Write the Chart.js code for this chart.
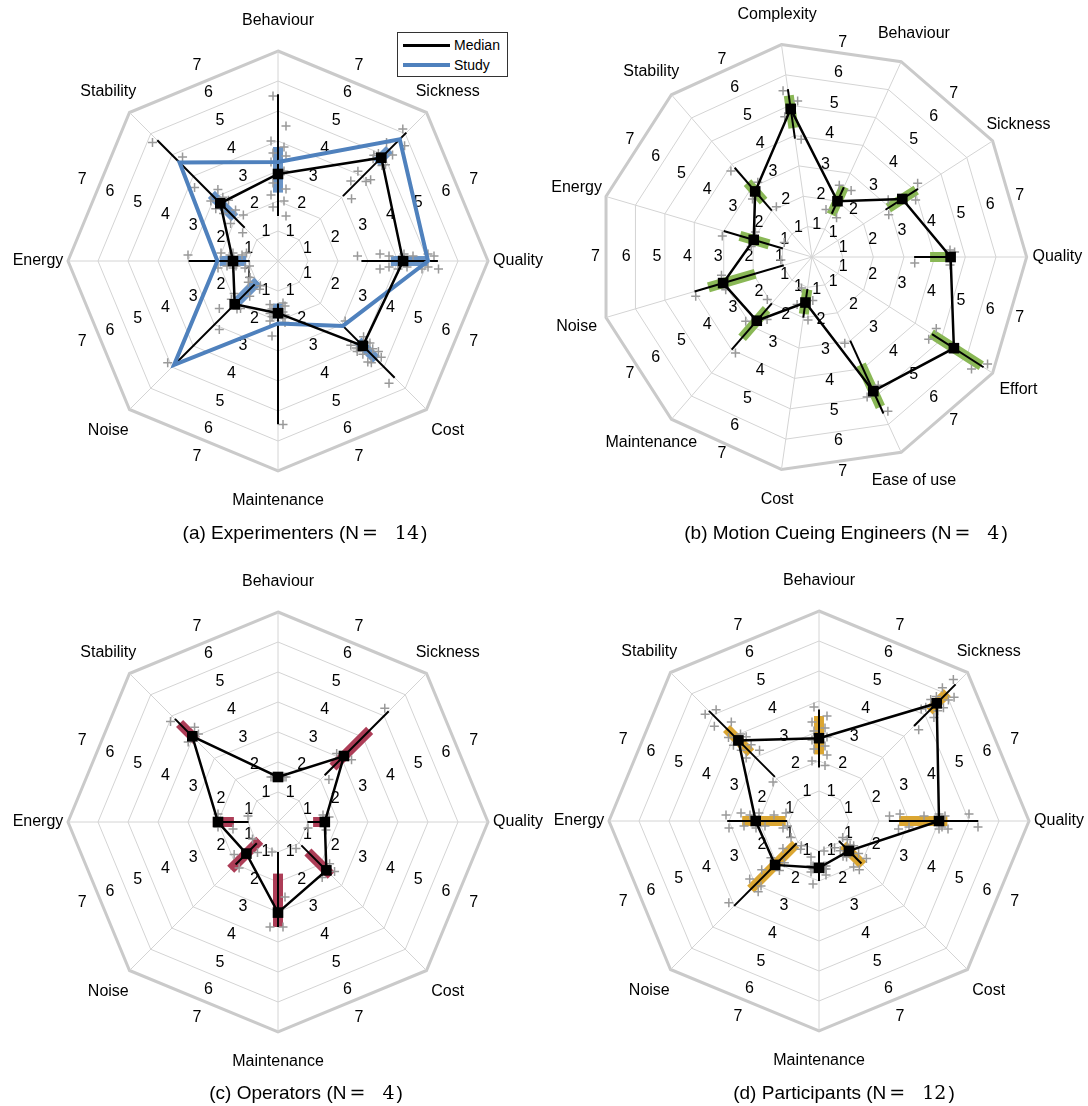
<!DOCTYPE html>
<html>
<head>
<meta charset="utf-8">
<script src="https://cdn.jsdelivr.net/npm/chart.js@4.4.1/dist/chart.umd.min.js"></script>
<style>
  body { margin: 0; background: #fff; width: 1088px; height: 1106px; position: relative; overflow: hidden;
         font-family: "Liberation Sans", Arial, sans-serif; color: #000; }
  canvas { position: absolute; }
  .cap { position: absolute; width: 440px; text-align: center; font-size: 19px; line-height: 24px; }
  .cap .m { font-family: "DejaVu Serif", serif; font-size: 19px; }
  .cap .eq { margin-left: 3px; }
  .cap .num { margin-left: 17px; margin-right: 2px; }
  #legend { position: absolute; left: 397px; top: 32px; width: 109px; height: 43px; border: 1px solid #333; background: #fff; }
  #legend .ln { position: absolute; left: 5px; width: 47px; }
  #legend span { position: absolute; left: 56px; font-size: 14px; line-height: 16px; }
</style>
</head>
<body>
<canvas id="chartA" width="540" height="540" style="left:8px;top:-9px"></canvas>
<canvas id="chartB" width="552" height="552" style="left:536px;top:-19px"></canvas>
<canvas id="chartC" width="540" height="540" style="left:8px;top:552px"></canvas>
<canvas id="chartD" width="540" height="540" style="left:549px;top:551px"></canvas>

<div id="legend">
  <div class="ln" style="top:11px;height:3px;background:#000"></div>
  <span style="top:4px">Median</span>
  <div class="ln" style="top:30px;height:4px;background:#4f81bd"></div>
  <span style="top:24px">Study</span>
</div>

<div class="cap" style="left:85px;top:520px">(a) Experimenters (N<span class="m eq">=</span><span class="m num">14</span>)</div>
<div class="cap" style="left:626px;top:520px">(b) Motion Cueing Engineers (N<span class="m eq">=</span><span class="m num">4</span>)</div>
<div class="cap" style="left:86px;top:1080px">(c) Operators (N<span class="m eq">=</span><span class="m num">4</span>)</div>
<div class="cap" style="left:624px;top:1080px">(d) Participants (N<span class="m eq">=</span><span class="m num">12</span>)</div>

<script>
const tickValues = [1, 2, 3, 4, 5, 6, 7];

// (a) Experimenters
const axesA = ['Behaviour', 'Sickness', 'Quality', 'Cost', 'Maintenance', 'Noise', 'Energy', 'Stability'];
const medianA = [2.9, 4.87, 4.17, 4.0, 1.74, 2.04, 1.5, 2.72];
const studyA = [3.3, 5.74, 5.0, 3.06, 2.08, 4.9, 2.02, 4.64];
const q1A = [2.28, 4.63, 3.76, 3.77, 1.42, 0.95, 1.06, 2.04];
const q3A = [3.8, 5.26, 5.0, 4.64, 1.91, 1.92, 1.94, 3.14];
const lowA = [1.5, 3.06, 2.78, 3.06, 1.42, 1.1, 0.94, 1.57];
const highA = [5.56, 6.05, 5.33, 5.5, 5.44, 4.9, 2.98, 5.69];
const pointsA = [
  [5.5, 4.5, 4.0, 3.8, 3.6, 3.5, 3.3, 3.0, 2.6, 2.4, 2.2, 2.0, 1.8, 1.5],
  [6.05, 5.7, 5.35, 5.2, 4.9, 4.8, 4.75, 4.7, 4.65, 4.1, 4.0, 3.95, 3.6, 3.2],
  [2.65, 3.4, 3.4, 3.7, 3.7, 4.0, 4.2, 4.3, 4.5, 4.8, 5.0, 5.0, 5.2, 5.35],
  [3.0, 3.7, 3.8, 3.9, 4.0, 4.0, 4.1, 4.2, 4.3, 4.5, 4.5, 4.6, 4.7, 5.5],
  [1.4, 1.45, 1.5, 1.6, 1.7, 1.75, 1.8, 1.85, 1.9, 2.0, 2.05, 2.5, 5.45],
  [1.0, 1.05, 1.1, 1.2, 1.5, 1.8, 2.0, 2.0, 2.1, 2.5, 3.0, 5.0],
  [0.95, 1.05, 1.1, 1.2, 1.4, 1.5, 1.5, 1.6, 1.7, 1.9, 2.0, 3.0],
  [1.5, 1.9, 2.0, 2.2, 2.4, 2.6, 2.7, 2.8, 3.0, 3.1, 3.7, 4.7, 5.75]
];

// (b) Motion Cueing Engineers
const axesB = ['Complexity', 'Behaviour', 'Sickness', 'Quality', 'Effort', 'Ease of use', 'Cost', 'Maintenance', 'Noise', 'Energy', 'Stability'];
const medianB = [4.88, 2.0, 3.5, 4.52, 5.5, 4.81, 1.5, 2.75, 3.02, 1.98, 2.83];
const q1B = [4.25, 1.52, 2.96, 3.85, 4.62, 3.86, 1.07, 2.26, 1.93, 1.46, 2.41];
const q3B = [5.32, 2.52, 4.04, 4.5, 6.56, 5.37, 1.88, 3.48, 3.52, 2.45, 3.21];
const lowB = [3.9, 1.55, 2.85, 3.33, 4.65, 3.0, 1.05, 2.0, 0.96, 0.99, 2.0];
const highB = [5.53, 2.5, 4.11, 4.52, 6.65, 5.61, 2.0, 4.0, 3.99, 3.0, 3.85];
const pointsB = [
  [5.5, 5.1, 4.65, 3.85],
  [2.5, 2.5, 1.6, 1.5],
  [4.2, 3.85, 3.1, 2.85],
  [4.65, 4.5, 4.5, 3.35],
  [6.7, 6.35, 4.67, 4.65],
  [5.6, 4.9, 4.7, 3.0],
  [2.05, 1.6, 1.4, 1.05],
  [4.0, 3.0, 2.5, 2.0],
  [4.0, 3.0, 3.0, 1.0],
  [3.0, 2.0, 2.0, 1.0],
  [3.85, 3.0, 2.7, 2.0]
];

// (c) Operators
const axesC = axesA;
const medianC = [1.5, 3.11, 1.56, 2.28, 3.02, 1.49, 2.0, 4.04];
const q1C = [1.5, 2.59, 1.17, 1.41, 1.72, 0.86, 1.47, 3.85];
const q3C = [1.5, 4.32, 1.67, 2.51, 3.5, 2.23, 2.17, 4.64];
const lowC = [1.5, 2.2, 0.98, 1.1, 1.0, 1.0, 0.98, 3.95];
const highC = [1.5, 5.22, 1.67, 2.5, 3.5, 2.0, 2.0, 4.86];
const pointsC = [
  [1.5, 1.5, 1.5, 1.5],
  [5.2, 3.2, 3.0, 2.2],
  [1.7, 1.6, 1.5, 1.0],
  [2.5, 2.35, 2.2, 1.05],
  [3.5, 3.5, 2.5, 1.0],
  [2.0, 1.8, 1.2, 1.0],
  [2.0, 2.0, 1.5, 1.0],
  [4.9, 4.2, 4.0, 3.95]
];

// (d) Participants
const axesD = axesA;
const medianD = [2.76, 5.55, 4.0, 1.41, 1.56, 2.07, 2.11, 3.8];
const q1D = [2.22, 5.19, 2.67, 1.13, 1.5, 1.1, 1.11, 3.22];
const q3D = [3.5, 6.05, 4.28, 2.07, 1.6, 3.22, 2.56, 4.36];
const lowD = [1.78, 4.48, 2.33, 0.94, 1.0, 1.05, 1.06, 2.08];
const highD = [3.72, 6.44, 5.31, 2.0, 2.0, 4.0, 3.06, 5.19];
const pointsD = [
  [3.8, 3.5, 3.3, 3.1, 3.0, 2.8, 2.7, 2.5, 2.4, 2.2, 2.0, 1.85],
  [6.5, 6.1, 6.05, 5.9, 5.7, 5.6, 5.5, 5.4, 5.2, 5.15, 5.05, 4.5],
  [2.35, 2.65, 2.7, 3.0, 3.5, 4.0, 4.0, 4.1, 4.2, 4.3, 5.0, 5.3],
  [0.95, 1.0, 1.1, 1.2, 1.3, 1.4, 1.4, 1.5, 1.7, 1.9, 2.0, 2.1],
  [1.0, 1.2, 1.5, 1.5, 1.5, 1.5, 1.6, 1.6, 1.6, 1.7, 1.8, 2.1],
  [1.0, 1.05, 1.1, 1.5, 1.8, 2.0, 2.1, 2.5, 2.9, 3.0, 3.1, 4.05],
  [1.05, 1.1, 1.2, 1.5, 1.8, 2.0, 2.1, 2.3, 2.5, 2.6, 3.0, 3.1],
  [2.0, 3.07, 3.2, 3.4, 3.5, 3.7, 3.8, 3.9, 4.1, 4.4, 4.7, 5.05, 5.2]
];

const FONT = '"Liberation Sans", Arial, sans-serif';

// spokes, sector tick labels, axis names, IQR bars, responses and whiskers
function overlay(p) {
  return {
    id: 'overlay',
    beforeDatasetsDraw(chart) {
      const r = chart.scales.r, ctx = chart.ctx, n = p.axes.length;
      const seg = (i, a, b) => {
        const s = r.getPointPositionForValue(i, a), e = r.getPointPositionForValue(i, b);
        ctx.beginPath(); ctx.moveTo(s.x, s.y); ctx.lineTo(e.x, e.y); ctx.stroke();
      };
      ctx.save();
      ctx.strokeStyle = '#d4d4d4';
      ctx.lineWidth = 1;
      for (let i = 0; i < n; i++) seg(i, 0, 7);

      ctx.fillStyle = '#000';
      ctx.textAlign = 'center';
      ctx.textBaseline = 'middle';
      ctx.font = '16px ' + FONT;
      for (let i = 0; i < n; i++) {
        tickValues.forEach(v => {
          const q = r.getPointPositionForValue(i + 0.5, v + 0.06);
          ctx.fillText(String(v), q.x, q.y);
        });
      }
      p.axes.forEach((name, i) => {
        const q = r.getPointPositionForValue(i, 8);
        ctx.fillText(name, q.x, q.y);
      });

      ctx.lineCap = 'butt';
      ctx.strokeStyle = p.color;
      ctx.lineWidth = 10;
      for (let i = 0; i < n; i++) seg(i, p.q1[i], p.q3[i]);

      ctx.strokeStyle = '#999';
      ctx.lineWidth = 1.5;
      p.points.forEach((vals, i) => {
        vals.forEach((v, j) => {
          const q = r.getPointPositionForValue(i, v);
          const d = (j % 2 ? 1 : -1) * (5 + (j * 3) % 4);
          const x = q.x - Math.sin(q.angle) * d, y = q.y + Math.cos(q.angle) * d;
          ctx.beginPath();
          ctx.moveTo(x - 4.5, y); ctx.lineTo(x + 4.5, y);
          ctx.moveTo(x, y - 4.5); ctx.lineTo(x, y + 4.5);
          ctx.stroke();
        });
      });

      ctx.strokeStyle = '#000';
      ctx.lineWidth = 2;
      for (let i = 0; i < n; i++) seg(i, p.low[i], p.high[i]);
      ctx.restore();
    }
  };
}

function radar(id, p) {
  const datasets = [{
    label: 'Median', data: p.median, order: 0,
    borderColor: '#000', borderWidth: 2.5, backgroundColor: '#000', fill: false,
    pointStyle: 'rect', pointRadius: 7.5, pointBorderWidth: 0, pointBackgroundColor: '#000'
  }];
  if (p.study) {
    datasets.push({
      label: 'Study', data: p.study, order: 1,
      borderColor: '#4f81bd', borderWidth: 4, backgroundColor: 'rgba(0,0,0,0)', fill: false, pointRadius: 0
    });
  }
  return new Chart(document.getElementById(id), {
    type: 'radar',
    data: { labels: p.axes, datasets: datasets },
    options: {
      responsive: false,
      animation: false,
      plugins: { legend: { display: false }, tooltip: { enabled: false } },
      elements: { line: { tension: 0 } },
      scales: {
        r: {
          min: 0, max: 9,
          startAngle: p.startAngle || 0,
          ticks: { display: false, stepSize: 1 },
          pointLabels: { display: false },
          angleLines: { display: false },
          grid: {
            circular: false,
            color: c => c.tick.value > 7 ? 'rgba(0,0,0,0)' : (c.tick.value === 7 ? '#cacaca' : '#d4d4d4'),
            lineWidth: c => c.tick.value === 7 ? 3 : 1
          }
        }
      }
    },
    plugins: [overlay(p)]
  });
}

radar('chartA', { axes: axesA, median: medianA, study: studyA, q1: q1A, q3: q3A, low: lowA, high: highA,
                  points: pointsA, color: 'rgba(79,129,189,0.85)' });
radar('chartB', { axes: axesB, median: medianB, q1: q1B, q3: q3B, low: lowB, high: highB,
                  points: pointsB, color: '#8ab856', startAngle: 90 - 3 * 360 / 11 });
radar('chartC', { axes: axesC, median: medianC, q1: q1C, q3: q3C, low: lowC, high: highC,
                  points: pointsC, color: '#ad3d57' });
radar('chartD', { axes: axesD, median: medianD, q1: q1D, q3: q3D, low: lowD, high: highD,
                  points: pointsD, color: '#dba632' });
</script>
</body>
</html>
